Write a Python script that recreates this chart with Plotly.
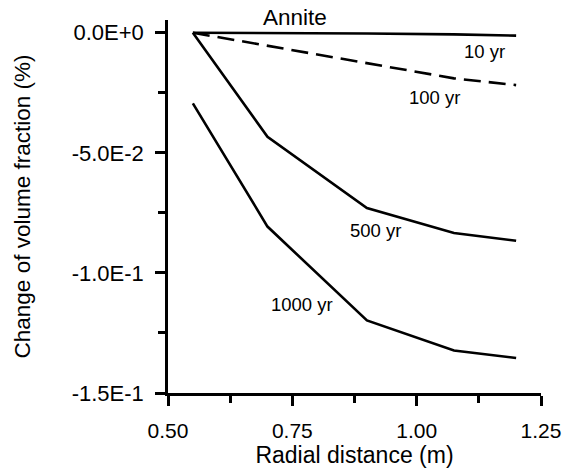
import plotly.graph_objects as go

# ---- data ----
radial_distance = [0.55, 0.70, 0.90, 1.075, 1.20]
annite_10yr = [0.0, -0.0001, -0.0003, -0.0007, -0.0012]
annite_100yr = [0.0, -0.0054, -0.0127, -0.0190, -0.0218]
annite_500yr = [0.0, -0.0433, -0.0730, -0.0834, -0.0866]
annite_1000yr = [-0.0294, -0.0807, -0.1198, -0.1323, -0.1354]

y_tick_vals = [0.0, -0.05, -0.10, -0.15]
y_tick_text = ["0.0E+0", "-5.0E-2", "-1.0E-1", "-1.5E-1"]
x_tick_vals = [0.50, 0.75, 1.00, 1.25]
x_tick_text = ["0.50", "0.75", "1.00", "1.25"]

# curve labels: (text, x, y)
curve_labels = [
    ("10 yr", 1.136, -0.0079),
    ("100 yr", 1.035, -0.0269),
    ("500 yr", 0.918, -0.0823),
    ("1000 yr", 0.769, -0.1131),
]
mineral_label = ("Annite", 0.756)

FONT = "Liberation Sans, Arial, sans-serif"
LW = 2.6

fig = go.Figure()
for ys, dash in [(annite_10yr, "solid"), (annite_100yr, "17px,8px"),
                 (annite_500yr, "solid"), (annite_1000yr, "solid")]:
    fig.add_trace(go.Scatter(x=radial_distance, y=ys, mode="lines",
                             line=dict(color="black", width=LW, dash=dash),
                             showlegend=False, hoverinfo="skip"))

for text, xv, yv in curve_labels:
    fig.add_annotation(x=xv, y=yv, text=text, showarrow=False,
                       xanchor="center", yanchor="middle",
                       font=dict(family=FONT, size=18.5, color="black"))
fig.add_annotation(x=mineral_label[1], y=1, xref="x", yref="paper",
                   text=mineral_label[0], showarrow=False,
                   xanchor="center", yanchor="middle", yshift=3,
                   font=dict(family=FONT, size=22.5, color="black"))

fig.update_layout(
    width=563, height=470,
    margin=dict(l=168, r=22, t=20, b=77, autoexpand=False),
    paper_bgcolor="white", plot_bgcolor="white",
    font=dict(family=FONT, color="black"),
)
fig.update_xaxes(
    range=[0.5, 1.25], showgrid=False, zeroline=False,
    showline=True, linecolor="black", linewidth=LW,
    ticks="outside", ticklen=10, tickwidth=LW, tickcolor="black",
    tickmode="array", tickvals=x_tick_vals, ticktext=x_tick_text,
    tickfont=dict(family=FONT, size=21, color="black"),
    ticklabelstandoff=7,
    minor=dict(ticks="outside", ticklen=7, tickwidth=LW, tickcolor="black",
               tick0=0.5, dtick=0.125, showgrid=False),
    title=dict(text="Radial distance (m)", font=dict(family=FONT, size=23, color="black"),
               standoff=6),
    automargin=False,
)
fig.update_yaxes(
    range=[-0.15, 0.0053], showgrid=False, zeroline=False,
    showline=True, linecolor="black", linewidth=LW,
    ticks="outside", ticklen=10, tickwidth=LW, tickcolor="black",
    tickmode="array", tickvals=y_tick_vals, ticktext=y_tick_text,
    tickfont=dict(family=FONT, size=22, color="black"),
    ticklabelstandoff=7,
    minor=dict(ticks="outside", ticklen=7, tickwidth=LW, tickcolor="black",
               tick0=0, dtick=0.025, showgrid=False),
    title=dict(text="Change of volume fraction (%)", font=dict(family=FONT, size=22.5, color="black"),
               standoff=35),
    automargin=False,
)

fig.write_html("out.html")
